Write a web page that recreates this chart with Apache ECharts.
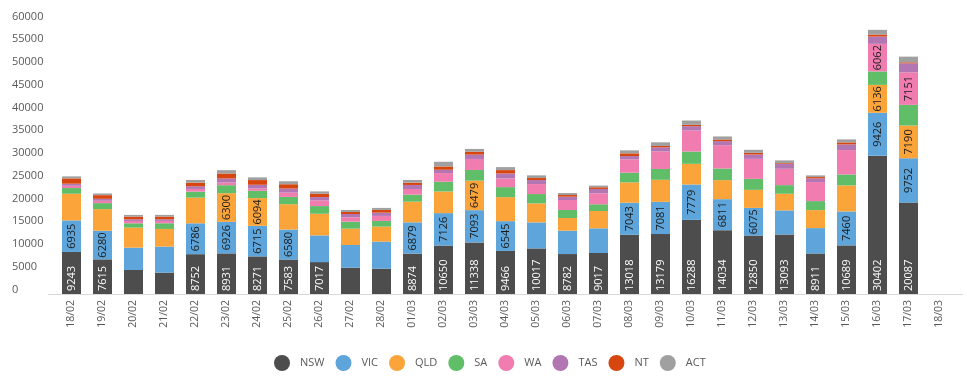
<!DOCTYPE html>
<html>
<head>
<meta charset="utf-8">
<script src="https://cdn.jsdelivr.net/npm/echarts@6/dist/echarts.min.js"></script>
<style>
html,body{margin:0;padding:0;background:#fff;}
#chart{width:967px;height:378px;}
</style>
</head>
<body>
<div id="chart"></div>
<script>
const categories = ['18/02','19/02','20/02','21/02','22/02','23/02','24/02','25/02','26/02','27/02','28/02',
  '01/03','02/03','03/03','04/03','05/03','06/03','07/03','08/03','09/03','10/03','11/03','12/03','13/03','14/03','15/03','16/03','17/03','18/03'];
const NSW = [9243,7615,5280,4690,8752,8931,8271,7583,7017,5790,5570,8874,10650,11338,9466,10017,8782,9017,13018,13179,16288,14034,12850,13093,8911,10689,30402,20087,null];
const VIC = [6935,6280,4910,5720,6786,6926,6715,6580,5860,4980,5940,6879,7126,7093,6545,5720,5130,5420,7043,7081,7779,6811,6075,5280,5570,7460,9426,9752,null];
const QLD = [5860,4760,4400,3890,5640,6300,6094,5570,4760,3590,3300,4540,4760,6479,5280,4180,2790,3810,4470,4840,4540,4180,3960,3660,3960,5710,6136,7190,null];
const SA  = [1250,1320,950,1250,1320,1760,1610,1610,1690,1540,1250,1540,2130,2350,2200,2050,1760,1470,2130,2380,2710,2560,2420,1900,1980,2420,2950,4540,null];
const WA  = [510,510,510,510,590,590,510,950,1250,950,1100,1250,1910,2420,1910,2200,2200,2420,2930,3850,4620,5130,4400,3590,4180,5350,6062,7151,null];
const TAS = [440,440,370,370,590,880,810,880,730,730,730,880,730,950,1100,880,730,950,730,910,950,880,950,1100,810,1250,1610,1980,null];
const NT  = [1170,800,590,590,800,1100,1030,950,730,440,590,510,730,660,730,440,370,370,590,300,290,370,370,150,290,440,440,220,null];
const ACT = [440,370,370,370,590,730,590,660,510,440,440,590,1030,590,660,590,440,370,660,800,950,660,660,590,370,660,1030,1250,null];

const seriesNames = ['NSW','VIC','QLD','SA','WA','TAS','NT','ACT'];
const seriesData = [NSW,VIC,QLD,SA,WA,TAS,NT,ACT];
const colors = ['#4d4d4d','#5da5da','#faa43a','#60bd68','#f17cb0','#b276b2','#d8460f','#a0a0a0'];
const FONT = 'Open Sans';

const labelFmt = p => (p.value != null && p.value >= 6000) ? String(p.value) : '';

const series = seriesNames.map((name, i) => {
  const isNSW = i === 0;
  return {
    name: name,
    type: 'bar',
    stack: 'total',
    barWidth: 19,
    data: seriesData[i],
    itemStyle: {color: colors[i]},
    label: {
      show: true,
      formatter: labelFmt,
      rotate: 90,
      position: isNSW ? 'insideBottom' : 'inside',
      distance: 3,
      align: isNSW ? 'left' : 'center',
      verticalAlign: 'middle',
      color: isNSW ? '#ffffff' : '#1a1a1a',
      fontFamily: FONT,
      fontSize: 11
    },
    emphasis: {disabled: true}
  };
});

const chart = echarts.init(document.getElementById('chart'), null, {renderer: 'canvas'});
chart.setOption({
  animation: false,
  color: colors,
  grid: {left: 56, right: 12, top: 21, bottom: 84},
  legend: {
    data: seriesNames,
    icon: 'circle',
    itemWidth: 16,
    itemHeight: 16,
    itemGap: 11,
    padding: 0,
    left: 274,
    top: 355,
    textStyle: {fontFamily: FONT, fontSize: 11, color: '#595959', padding: [0, 0, 0, 5]}
  },
  xAxis: {
    type: 'category',
    data: categories,
    axisLine: {show: false},
    axisTick: {show: false},
    axisLabel: {interval: 0, rotate: 90, margin: 6, fontFamily: FONT, fontSize: 10.5, color: '#595959'}
  },
  yAxis: {
    type: 'value',
    min: 0,
    max: 60000,
    interval: 5000,
    axisLine: {show: false},
    axisTick: {show: false},
    splitLine: {show: false},
    axisLabel: {
      formatter: v => String(v),
      align: 'left', margin: 44, verticalAlign: 'bottom', lineHeight: 9,
      fontFamily: FONT, fontSize: 11, color: '#595959'
    }
  },
  graphic: [{
    type: 'line',
    shape: {x1: 48, y1: 294.5, x2: 963, y2: 294.5},
    style: {stroke: '#d9d9d9', lineWidth: 1},
    silent: true
  }],
  series: series
});
</script>
</body>
</html>
